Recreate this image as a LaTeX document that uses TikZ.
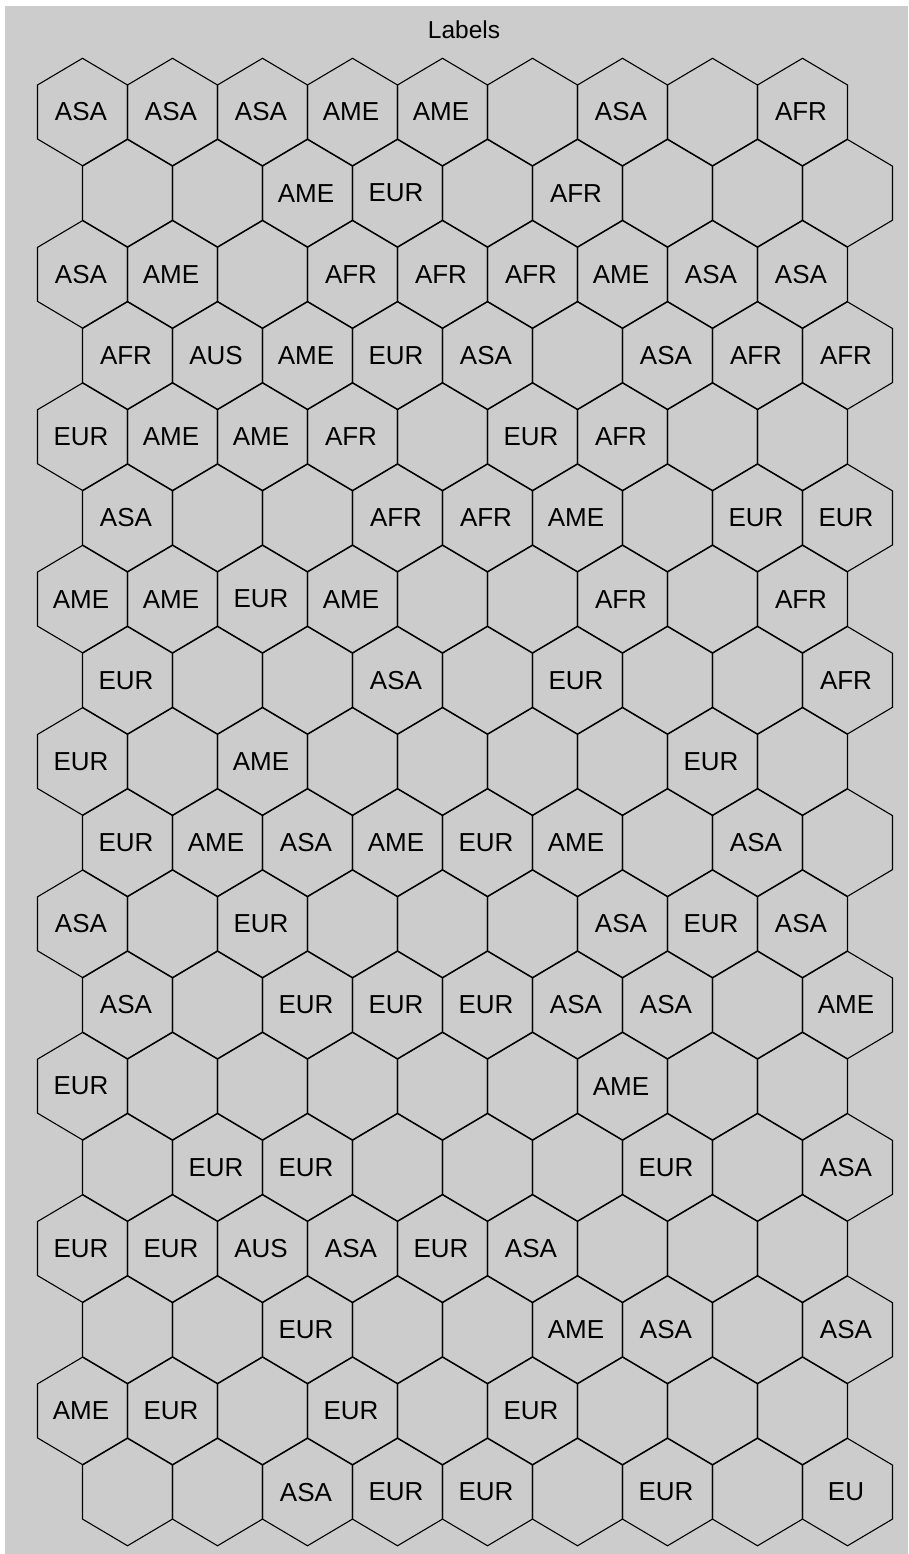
\documentclass[tikz,border=0pt]{standalone}
\usepackage{fontspec}
\setmainfont{Liberation Sans}
\definecolor{figgray}{RGB}{204,204,204}
\tikzset{
  hexline/.style={draw=black, line width=1.1pt, line join=miter},
  lab/.style={inner sep=0pt, font=\fontsize{26}{30}\selectfont, text=black},
  titlelab/.style={inner sep=0pt, font=\fontsize{24.5}{30}\selectfont, text=black}
}
\def\xmark{x}
\begin{document}
\begin{tikzpicture}[x=1pt,y=-1pt]
\useasboundingbox (0,0) rectangle (908,1554);
\fill[white] (0,0) rectangle (908,1554);
\fill[figgray] (5,6) rectangle (908,1554);
\node[titlelab] (title) at (464,30) {Labels};
\foreach \row [count=\r] in {
  {ASA,ASA,ASA,AME,AME,x,ASA,x,AFR},
  {x,x,AME,EUR,x,AFR,x,x,x},
  {ASA,AME,x,AFR,AFR,AFR,AME,ASA,ASA},
  {AFR,AUS,AME,EUR,ASA,x,ASA,AFR,AFR},
  {EUR,AME,AME,AFR,x,EUR,AFR,x,x},
  {ASA,x,x,AFR,AFR,AME,x,EUR,EUR},
  {AME,AME,EUR,AME,x,x,AFR,x,AFR},
  {EUR,x,x,ASA,x,EUR,x,x,AFR},
  {EUR,x,AME,x,x,x,x,EUR,x},
  {EUR,AME,ASA,AME,EUR,AME,x,ASA,x},
  {ASA,x,EUR,x,x,x,ASA,EUR,ASA},
  {ASA,x,EUR,EUR,EUR,ASA,ASA,x,AME},
  {EUR,x,x,x,x,x,AME,x,x},
  {x,EUR,EUR,x,x,x,EUR,x,ASA},
  {EUR,EUR,AUS,ASA,EUR,ASA,x,x,x},
  {x,x,EUR,x,x,AME,ASA,x,ASA},
  {AME,EUR,x,EUR,x,EUR,x,x,x},
  {x,x,ASA,EUR,EUR,x,EUR,x,EU}}{
  \foreach \lab [count=\c] in \row {
    \pgfmathsetmacro\cx{82.5+90*(\c-1)+45*(1-mod(\r,2))}
    \pgfmathsetmacro\cy{112+81.18*(\r-1)}
    \draw[hexline] (\cx,\cy-53.7) -- (\cx+45,\cy-27) -- (\cx+45,\cy+27)
      -- (\cx,\cy+53.7) -- (\cx-45,\cy+27) -- (\cx-45,\cy-27) -- cycle;
    \ifx\lab\xmark
      \node[lab] (h-\r-\c) at (\cx,\cy) {};
    \else
      \node[lab] (h-\r-\c) at (\cx-1.5,\cy) {\lab};
    \fi
  }
}
\end{tikzpicture}
\end{document}
